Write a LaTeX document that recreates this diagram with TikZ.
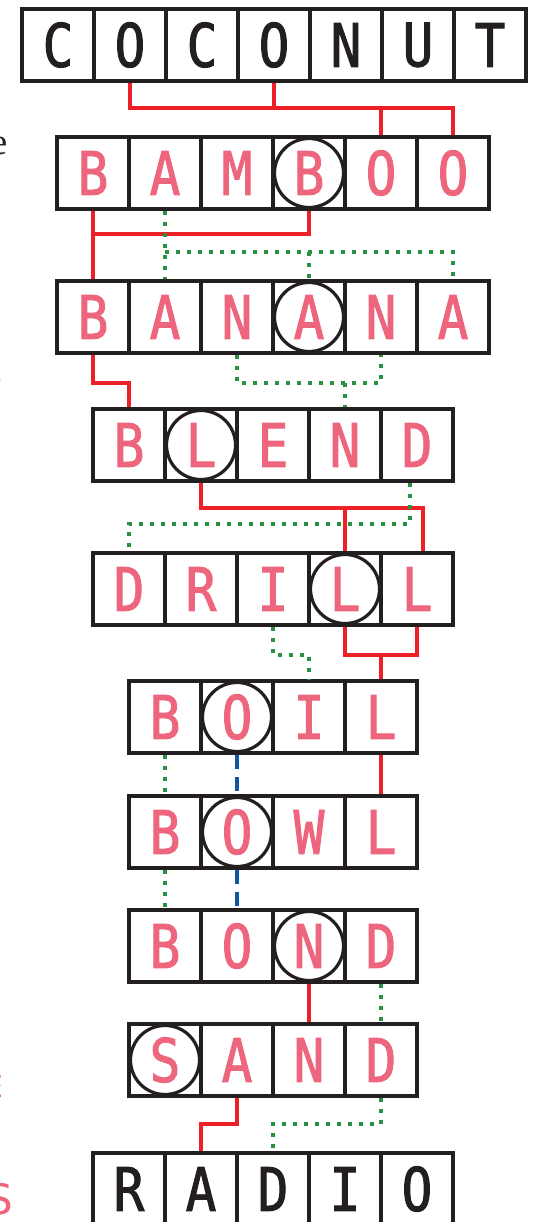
\documentclass[tikz,border=0pt]{standalone}
\usepackage{fontspec}
\newfontfamily\lettfont[FakeStretch=0.85, FakeBold=1.6]{DejaVu Sans Mono}
\newfontfamily\serifbit{Liberation Serif}
\newfontfamily\sansbit{DejaVu Sans}
\definecolor{ink}{RGB}{35,31,32}
\definecolor{pinkc}{RGB}{238,102,126}
\definecolor{redc}{RGB}{236,32,38}
\definecolor{greenc}{RGB}{38,146,66}
\definecolor{bluec}{RGB}{14,86,166}
\tikzset{
  cellbox/.style={draw=ink, line width=3.5pt, minimum size=72pt, inner sep=0pt,
    font=\lettfont\fontsize{60}{60}\selectfont},
  ring/.style={circle, draw=ink, line width=3.2pt, minimum size=69pt, inner sep=0pt},
  redline/.style={draw=redc, line width=3.2pt},
  greenline/.style={draw=greenc, line width=3.5pt, dash pattern=on 4pt off 7pt},
  blueline/.style={draw=bluec, line width=3.2pt, dash pattern=on 14pt off 8pt},
}
\newcommand{\wordrow}[5]{%
  \foreach \L [count=\i] in {#5}
    \node[cellbox, text=#4] (#1\i) at ({#2+36+72*(\i-1)},{#3+37}) {\L};}
\begin{document}
\begin{tikzpicture}[x=1pt, y=-1pt]
\useasboundingbox (0,0) rectangle (533,1222);
\clip (0,0) rectangle (533,1222);
\fill[white] (0,0) rectangle (533,1222);

% stray fragments at the left edge
\node[font=\serifbit\fontsize{37}{37}\selectfont, text=ink, anchor=base east, inner sep=0pt] (fragA) at (7.5,155) {e};
\node[font=\sansbit\fontsize{40}{40}\selectfont, text=pinkc, anchor=east, inner sep=0pt] (fragB) at (3,381) {O};
\node[font=\sansbit\fontsize{30}{30}\selectfont, text=pinkc, anchor=base east, inner sep=0pt] (fragC) at (3.5,1097) {E};
\node[font=\sansbit\fontsize{42}{42}\selectfont, text=pinkc, anchor=base east, inner sep=0pt] (fragD) at (13,1214) {S};

% junction levels
\coordinate (jA) at (0,108);
\coordinate (jB) at (0,234);
\coordinate (jC) at (0,252);
\coordinate (jD) at (0,383);
\coordinate (jE) at (0,508);
\coordinate (jF) at (0,524);
\coordinate (jG) at (0,655);
\coordinate (jH) at (0,1124);

% word rows
\wordrow{coconut}{22}{8}{ink}{C,O,C,O,N,U,T}
\wordrow{bamboo}{57}{136}{pinkc}{B,A,M,B,O,O}
\wordrow{banana}{57}{280}{pinkc}{B,A,N,A,N,A}
\wordrow{blend}{93}{408}{pinkc}{B,L,E,N,D}
\wordrow{drill}{93}{552}{pinkc}{D,R,I,L,L}
\wordrow{boil}{129}{680}{pinkc}{B,O,I,L}
\wordrow{bowl}{129}{795}{pinkc}{B,O,W,L}
\wordrow{bond}{129}{909}{pinkc}{B,O,N,D}
\wordrow{sand}{129}{1023}{pinkc}{S,A,N,D}
\wordrow{radio}{93}{1152}{ink}{R,A,D,I,O}

% circled letters
\node[ring] (ringA) at (bamboo4) {};
\node[ring] (ringB) at (banana4) {};
\node[ring] (ringC) at (blend2) {};
\node[ring] (ringD) at (drill4) {};
\node[ring] (ringE) at (boil2) {};
\node[ring] (ringF) at (bowl2) {};
\node[ring] (ringG) at (bond3) {};
\node[ring] (ringH) at (sand1) {};

% COCONUT -> BAMBOO
\draw[redline] (coconut2.south) -- (coconut2.south |- jA) -- (bamboo6.north |- jA) -- (bamboo6.north);
\draw[redline] (coconut4.south) -- (coconut4.south |- jA);
\draw[redline] (bamboo5.north |- jA) -- (bamboo5.north);

% BAMBOO -> BANANA
\draw[redline] (bamboo1.south) -- (banana1.north);
\draw[redline] (bamboo4.south) -- (bamboo4.south |- jB) -- (bamboo1.south |- jB);
\draw[greenline] (bamboo2.south) -- (banana2.north);
\draw[greenline] (bamboo2.south |- jC) -- (banana6.north |- jC) -- (banana6.north);
\draw[greenline] (banana4.north |- jC) -- (banana4.north);

% BANANA -> BLEND
\draw[redline] (banana1.south) -- (banana1.south |- jD) -- (blend1.north |- jD) -- (blend1.north);
\draw[greenline] (banana3.south) -- (banana3.south |- jD) -- (banana5.south |- jD) -- (banana5.south);
\draw[greenline] (blend4.north |- jD) -- (blend4.north);

% BLEND -> DRILL
\draw[redline] (blend2.south) -- (blend2.south |- jE) -- ([xshift=6pt]drill5.north |- jE) -- ([xshift=6pt]drill5.north);
\draw[redline] (drill4.north |- jE) -- (drill4.north);
\draw[greenline] ([xshift=-7pt]blend5.south) -- ([xshift=-7pt]blend5.south |- jF) -- (drill1.north |- jF) -- (drill1.north);

% DRILL -> BOIL
\draw[redline] (drill4.south) -- (drill4.south |- jG) -- (drill5.south |- jG) -- (drill5.south);
\draw[redline] (boil4.north |- jG) -- (boil4.north);
\draw[greenline] (drill3.south) -- (drill3.south |- jG) -- (boil3.north |- jG) -- (boil3.north);

% BOIL -> BOWL
\draw[greenline] (boil1.south) -- (bowl1.north);
\draw[blueline] (boil2.south) -- (bowl2.north);
\draw[redline] (boil4.south) -- (bowl4.north);

% BOWL -> BOND
\draw[greenline] (bowl1.south) -- (bond1.north);
\draw[blueline] (bowl2.south) -- (bond2.north);

% BOND -> SAND
\draw[redline] (bond3.south) -- (sand3.north);
\draw[greenline] (bond4.south) -- (sand4.north);

% SAND -> RADIO
\draw[redline] (sand2.south) -- (sand2.south |- jH) -- (radio2.north |- jH) -- (radio2.north);
\draw[greenline] (sand4.south) -- (sand4.south |- jH) -- (radio3.north |- jH) -- (radio3.north);
\end{tikzpicture}
\end{document}
